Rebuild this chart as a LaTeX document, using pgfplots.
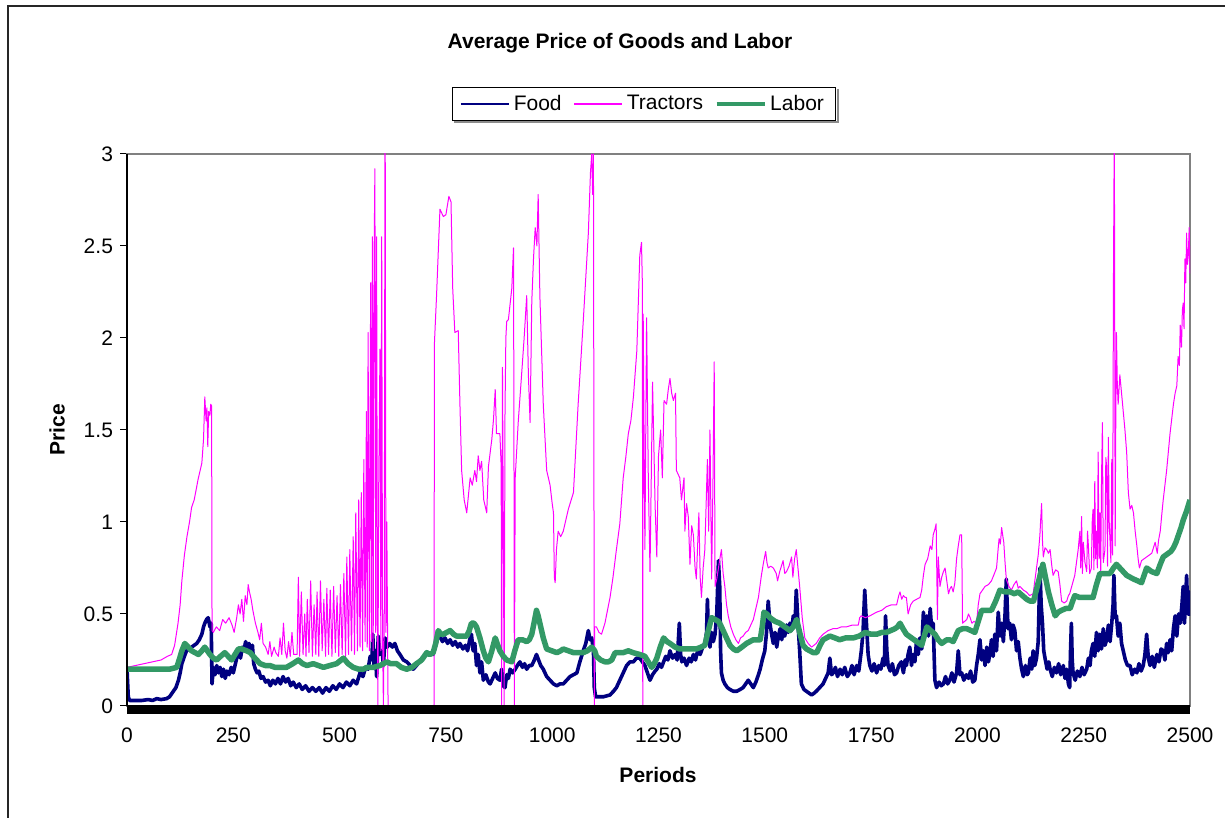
\documentclass[border=0pt]{standalone}
\usepackage{fontspec}
\setmainfont{Liberation Sans}
\usepackage{pgfplots}
\pgfplotsset{compat=1.18}
\definecolor{foodc}{RGB}{0,0,128}
\definecolor{tracc}{RGB}{255,0,255}
\definecolor{laborc}{RGB}{51,153,102}
\begin{document}
\begin{tikzpicture}
\useasboundingbox (0,0) rectangle (612.5pt,409pt);
\draw[black!85, line width=0.8pt] (4pt,-20pt) -- (4pt,406pt) -- (700pt,406pt);
\begin{axis}[
 name=ax,
 at={(63.5pt,56pt)}, anchor=south west,
 scale only axis, width=531.5pt, height=276pt,
 xmin=0, xmax=2500, ymin=0, ymax=3,
 xtick={0,250,...,2500}, ytick={0,0.5,...,3},
 tick label style={font=\fontsize{10.5}{12}\selectfont},
 /pgf/number format/assume math mode=true,
 /pgf/number format/1000 sep={},
 axis line style={draw=black!50, line width=0.6pt},
 xtick style={draw=none},
 ytick style={black, line width=0.5pt},
 tick align=outside, tick pos=left, major tick length=3.5pt,
 xticklabel style={yshift=-4pt},
 legend columns=3,
 legend style={at={(0.4864,1.0906)}, anchor=center, draw=black, line width=0.5pt, fill=white,
   name=leg,
   font=\fontsize{10.5}{12}\selectfont, inner ysep=1.5pt, inner xsep=4pt,
   /tikz/every even column/.append style={column sep=4pt}},
 legend image code/.code={\draw[#1, line join=round] (0pt,0pt) -- (24pt,0pt);},
]
\addplot[foodc, line width=1.8pt, line join=round, legend image post style={line width=0.8pt}] coordinates {
(0,0.20) (3,0.05) (6,0.03) (20,0.03) (35,0.03) (50,0.035) (60,0.03) (70,0.04) (80,0.035) (93,0.04) (100,0.05) (109,0.08) (115,0.10) (121,0.14) (125,0.18) (129,0.23) (135,0.27) (140,0.30) (146,0.31) (152,0.32) (158,0.33) (164,0.34) (170,0.36) (176,0.39) (180,0.43) (183,0.45) (187,0.47) (191,0.48) (195,0.43) (198,0.45) (200,0.12) (203,0.21) (207,0.17) (211,0.22) (215,0.18) (219,0.21) (223,0.16) (227,0.20) (231,0.15) (235,0.19) (240,0.17) (245,0.21) (250,0.18) (255,0.23) (259,0.27) (263,0.29) (267,0.26) (271,0.32) (275,0.30) (279,0.35) (283,0.31) (287,0.34) (291,0.30) (295,0.33) (298,0.23) (302,0.20) (306,0.18) (310,0.19) (315,0.15) (320,0.16) (326,0.13) (332,0.14) (337,0.11) (343,0.14) (349,0.12) (355,0.15) (361,0.12) (367,0.16) (373,0.13) (379,0.15) (385,0.11) (391,0.13) (398,0.10) (405,0.12) (412,0.09) (420,0.11) (428,0.08) (436,0.10) (444,0.08) (452,0.10) (460,0.07) (468,0.10) (476,0.08) (484,0.11) (492,0.09) (500,0.12) (508,0.10) (516,0.13) (524,0.11) (532,0.14) (540,0.12) (548,0.18) (555,0.16) (561,0.21) (567,0.20) (572,0.27) (576,0.25) (578,0.39) (581,0.22) (584,0.30) (587,0.16) (591,0.38) (595,0.28) (600,0.30) (603,0.22) (607,0.37) (612,0.32) (618,0.34) (624,0.32) (630,0.34) (636,0.30) (642,0.28) (650,0.25) (658,0.24) (666,0.22) (673,0.20) (681,0.22) (690,0.25) (698,0.27) (705,0.28) (712,0.29) (720,0.28) (726,0.33) (731,0.37) (736,0.38) (742,0.35) (748,0.37) (754,0.34) (760,0.36) (766,0.33) (772,0.35) (778,0.32) (783,0.34) (790,0.31) (796,0.33) (801,0.30) (806,0.36) (810,0.39) (814,0.30) (818,0.34) (822,0.22) (826,0.28) (830,0.18) (834,0.24) (838,0.14) (844,0.17) (850,0.13) (854,0.12) (860,0.15) (866,0.18) (871,0.15) (877,0.14) (881,0.20) (885,0.11) (889,0.10) (893,0.17) (897,0.15) (901,0.20) (907,0.18) (913,0.20) (918,0.22) (924,0.24) (930,0.21) (935,0.23) (940,0.20) (946,0.22) (952,0.22) (958,0.25) (963,0.28) (968,0.25) (973,0.22) (979,0.20) (987,0.16) (995,0.14) (1003,0.12) (1011,0.11) (1018,0.12) (1026,0.12) (1034,0.14) (1042,0.16) (1050,0.17) (1058,0.18) (1065,0.24) (1073,0.30) (1079,0.34) (1085,0.41) (1089,0.36) (1093,0.37) (1097,0.30) (1099,0.10) (1102,0.05) (1112,0.05) (1120,0.05) (1128,0.055) (1136,0.06) (1144,0.08) (1151,0.10) (1157,0.13) (1163,0.16) (1169,0.19) (1175,0.22) (1183,0.24) (1191,0.24) (1198,0.26) (1206,0.26) (1212,0.24) (1218,0.22) (1224,0.18) (1230,0.14) (1236,0.17) (1242,0.19) (1246,0.20) (1252,0.23) (1257,0.21) (1262,0.24) (1267,0.27) (1272,0.25) (1277,0.30) (1283,0.26) (1289,0.28) (1294,0.25) (1299,0.45) (1302,0.28) (1305,0.24) (1310,0.26) (1316,0.22) (1322,0.26) (1327,0.24) (1332,0.28) (1337,0.25) (1342,0.30) (1348,0.28) (1354,0.32) (1359,0.34) (1363,0.40) (1365,0.58) (1368,0.36) (1371,0.32) (1375,0.40) (1379,0.35) (1383,0.39) (1387,0.50) (1391,0.79) (1394,0.65) (1396,0.30) (1398,0.18) (1402,0.14) (1406,0.12) (1412,0.10) (1418,0.09) (1426,0.08) (1434,0.08) (1442,0.09) (1449,0.10) (1455,0.12) (1461,0.14) (1467,0.12) (1473,0.10) (1479,0.13) (1485,0.17) (1489,0.20) (1494,0.25) (1500,0.30) (1504,0.40) (1508,0.57) (1512,0.45) (1516,0.39) (1520,0.34) (1524,0.40) (1528,0.32) (1532,0.38) (1536,0.42) (1540,0.36) (1543,0.43) (1547,0.38) (1551,0.44) (1555,0.40) (1559,0.45) (1563,0.41) (1567,0.49) (1571,0.44) (1574,0.63) (1578,0.45) (1582,0.30) (1586,0.12) (1592,0.09) (1598,0.08) (1604,0.07) (1610,0.06) (1616,0.07) (1621,0.08) (1629,0.10) (1637,0.12) (1643,0.15) (1649,0.18) (1653,0.26) (1657,0.17) (1661,0.18) (1666,0.21) (1671,0.16) (1677,0.20) (1682,0.17) (1688,0.21) (1694,0.16) (1700,0.18) (1705,0.22) (1710,0.17) (1716,0.22) (1721,0.19) (1727,0.30) (1731,0.40) (1735,0.63) (1739,0.45) (1743,0.28) (1747,0.22) (1752,0.19) (1757,0.23) (1763,0.18) (1768,0.22) (1773,0.20) (1778,0.26) (1781,0.22) (1784,0.49) (1787,0.30) (1790,0.22) (1795,0.19) (1800,0.23) (1805,0.17) (1810,0.18) (1815,0.22) (1821,0.24) (1826,0.18) (1830,0.25) (1833,0.22) (1837,0.28) (1841,0.32) (1845,0.22) (1849,0.28) (1853,0.24) (1857,0.36) (1861,0.28) (1865,0.37) (1869,0.31) (1873,0.51) (1877,0.40) (1881,0.49) (1885,0.38) (1889,0.53) (1893,0.40) (1896,0.45) (1900,0.14) (1904,0.10) (1910,0.13) (1915,0.11) (1920,0.12) (1925,0.16) (1930,0.12) (1935,0.14) (1940,0.18) (1945,0.13) (1951,0.18) (1955,0.30) (1959,0.17) (1963,0.18) (1968,0.14) (1974,0.17) (1979,0.15) (1984,0.19) (1989,0.13) (1994,0.14) (1998,0.22) (2002,0.28) (2006,0.36) (2010,0.25) (2014,0.30) (2018,0.22) (2022,0.32) (2026,0.24) (2029,0.28) (2033,0.36) (2037,0.27) (2041,0.39) (2045,0.30) (2049,0.51) (2053,0.38) (2057,0.45) (2061,0.35) (2065,0.50) (2068,0.69) (2072,0.42) (2076,0.45) (2080,0.36) (2084,0.44) (2088,0.41) (2092,0.30) (2096,0.35) (2100,0.26) (2104,0.20) (2108,0.16) (2113,0.22) (2117,0.17) (2120,0.18) (2124,0.26) (2128,0.20) (2131,0.30) (2135,0.22) (2139,0.26) (2143,0.35) (2147,0.75) (2150,0.55) (2153,0.45) (2156,0.30) (2159,0.26) (2164,0.20) (2168,0.24) (2171,0.20) (2176,0.16) (2181,0.21) (2186,0.18) (2191,0.23) (2196,0.17) (2202,0.22) (2206,0.15) (2210,0.20) (2214,0.12) (2217,0.10) (2219,0.30) (2221,0.45) (2223,0.25) (2225,0.18) (2230,0.14) (2235,0.19) (2241,0.16) (2246,0.21) (2251,0.17) (2257,0.20) (2261,0.26) (2265,0.22) (2268,0.30) (2272,0.34) (2276,0.27) (2280,0.40) (2284,0.30) (2288,0.39) (2292,0.31) (2296,0.42) (2300,0.33) (2304,0.36) (2308,0.44) (2312,0.35) (2316,0.45) (2319,0.55) (2321,0.71) (2324,0.48) (2327,0.49) (2331,0.38) (2335,0.45) (2339,0.34) (2343,0.30) (2348,0.25) (2353,0.22) (2359,0.22) (2364,0.17) (2370,0.20) (2375,0.18) (2380,0.23) (2385,0.19) (2390,0.22) (2394,0.28) (2398,0.39) (2402,0.26) (2406,0.22) (2411,0.27) (2416,0.21) (2422,0.28) (2427,0.24) (2432,0.31) (2437,0.30) (2441,0.25) (2445,0.34) (2449,0.29) (2453,0.36) (2457,0.30) (2461,0.42) (2465,0.49) (2469,0.38) (2473,0.50) (2477,0.45) (2481,0.55) (2484,0.65) (2487,0.45) (2490,0.60) (2492,0.71) (2495,0.50) (2498,0.62) (2500,0.49)
};
\addlegendentry{Food}
\addplot[tracc, line width=0.5pt, line join=round, legend image post style={line width=0.6pt}] coordinates {
(0,0.21) (20,0.22) (40,0.23) (60,0.24) (80,0.25) (95,0.27) (105,0.28) (112,0.33) (120,0.45) (125,0.55) (129,0.68) (135,0.82) (141,0.92) (147,1.0) (152,1.08) (158,1.12) (163,1.18) (167,1.23) (172,1.28) (176,1.32) (180,1.45) (183,1.68) (186,1.55) (188,1.62) (190,1.41) (192,1.6) (195,1.58) (197,1.64) (199,1.63) (200,0.41)
(203,0.40) (210,0.43) (218,0.41) (225,0.47) (232,0.45) (240,0.48) (247,0.44) (252,0.40) (258,0.48) (262,0.55) (266,0.50) (270,0.58) (274,0.46) (278,0.60) (282,0.55) (285,0.66) (288,0.62) (292,0.58) (296,0.52) (302,0.45) (308,0.40) (312,0.36) (316,0.45) (320,0.34) (326,0.32) (332,0.28) (336,0.35) (340,0.27) (346,0.32) (350,0.29) (356,0.27) (360,0.37) (364,0.28) (368,0.45) (372,0.30) (376,0.26) (380,0.35) (384,0.27) (388,0.40) (392,0.28)
(400,0.28) (403,0.70) (406,0.27) (410,0.62) (414,0.28) (418,0.50) (421,0.27) (424,0.58) (428,0.29) (432,0.68) (436,0.27) (440,0.55) (444,0.28) (447,0.62) (451,0.27) (455,0.68) (459,0.30) (463,0.58) (467,0.27) (470,0.64) (474,0.28) (478,0.63) (482,0.27) (486,0.65) (490,0.29) (494,0.60) (498,0.27) (502,0.66) (506,0.28) (510,0.72) (514,0.27) (517,0.81) (521,0.28) (524,0.85) (528,0.30) (532,0.92) (535,0.28) (538,1.05) (542,0.30) (545,1.12) (548,0.32) (551,1.16) (554,0.30) (557,1.34) (560,0.35) (563,1.60) (565,0.32) (567,2.03) (570,0.30) (573,2.30) (575,0.35) (577,2.55) (579,0.30) (581,2.40) (583,2.92) (585,0.40) (587,2.55) (589,0.5) (590,0) (592,1.2) (595,1.94) (597,0.3) (599,2.55) (601,0.4) (603,0) (605,0.5) (607,3.5) (609,0.4) (611,1.0) (614,0) (720,0)
(722,0) (723,1.97) (728,2.23) (736,2.70) (744,2.66) (750,2.67) (757,2.77) (762,2.74) (766,2.27) (771,2.03) (779,2.04) (783,1.64) (787,1.28) (793,1.12) (799,1.05) (807,1.24) (812,1.20) (818,1.28) (822,1.22) (826,1.36) (830,1.28) (834,1.33) (839,1.12) (846,1.05) (850,1.30) (858,1.45) (862,1.56) (866,1.72) (869,1.48) (877,1.48) (880,1.3) (881,0) (883,1.84) (885,1.0) (887,0) (889,1.6) (891,2.0) (893,2.09) (897,2.10) (905,2.27) (909,2.49) (910,1.5) (911,0) (913,1.24) (920,1.54) (928,1.80) (934,2.0) (940,2.23) (944,1.8) (948,1.54) (952,2.2) (956,2.43) (960,2.60) (964,2.5) (967,2.78) (971,2.23) (979,1.64) (987,1.28) (995,1.20) (1000,1.10) (1003,1.05) (1005,0.7) (1007,0.67) (1010,0.85) (1014,0.95) (1020,0.92) (1026,0.95) (1038,1.07) (1050,1.16) (1061,1.64) (1073,2.09) (1085,2.57) (1090,2.9) (1093,3.0) (1095,2.78) (1097,3.0) (1099,0)
(1100,0.43) (1104,0.43) (1110,0.40) (1116,0.39) (1120,0.42) (1124,0.45) (1130,0.52) (1136,0.59) (1143,0.70) (1151,0.85) (1159,0.99) (1167,1.24) (1173,1.35) (1179,1.48) (1185,1.55)
(1191,1.68) (1199,1.93) (1206,2.45) (1210,2.52) (1212,2.3) (1213,0) (1214,2.13) (1218,0.85) (1222,2.11) (1226,1.24) (1230,0.73) (1236,1.76) (1242,1.09) (1246,0.81) (1250,1.36) (1255,1.50) (1259,1.24) (1263,1.66) (1269,1.64) (1273,1.72) (1277,1.78) (1281,1.70) (1285,1.66) (1290,1.70) (1292,1.28) (1300,1.24) (1304,1.12) (1310,1.24) (1312,0.95) (1316,1.10) (1320,1.03) (1324,0.77) (1328,0.98) (1332,0.93) (1336,0.75) (1339,0.69) (1345,1.05) (1348,0.70) (1351,0.59) (1355,0.75) (1359,0.85) (1365,1.34) (1368,0.95) (1371,1.50) (1375,0.69) (1378,1.2) (1381,1.87) (1383,0.65) (1387,0.69) (1391,0.75) (1395,0.81) (1398,0.85) (1402,0.72) (1406,0.65) (1410,0.55) (1414,0.49) (1420,0.43) (1426,0.39) (1432,0.36) (1438,0.34) (1443,0.37) (1449,0.38) (1455,0.40) (1461,0.41) (1467,0.44) (1473,0.47) (1479,0.53) (1485,0.59) (1492,0.71) (1497,0.78) (1502,0.84) (1505,0.78) (1508,0.75) (1514,0.76) (1520,0.75) (1527,0.72) (1530,0.68) (1535,0.73) (1539,0.76) (1543,0.79) (1547,0.72) (1551,0.73) (1557,0.76) (1563,0.81) (1566,0.70) (1570,0.80) (1574,0.85) (1578,0.75) (1582,0.65) (1588,0.48) (1594,0.37) (1602,0.34) (1610,0.32) (1621,0.34) (1629,0.37) (1637,0.39) (1649,0.41) (1660,0.42) (1669,0.42) (1680,0.43) (1692,0.43) (1706,0.44) (1720,0.44) (1723,0.48) (1727,0.49) (1737,0.48) (1747,0.49) (1755,0.50) (1763,0.51) (1775,0.52) (1786,0.54) (1798,0.55) (1810,0.55) (1815,0.60) (1818,0.62) (1822,0.58) (1826,0.60) (1830,0.59) (1833,0.59) (1837,0.50) (1843,0.55) (1849,0.57) (1857,0.58) (1865,0.59) (1869,0.63) (1873,0.71) (1877,0.77) (1883,0.80) (1889,0.87) (1893,0.85) (1896,0.93) (1900,0.96) (1903,0.99) (1906,0.47) (1908,0.81) (1912,0.65) (1916,0.70) (1920,0.73) (1924,0.75) (1928,0.68) (1932,0.61) (1936,0.64) (1939,0.65) (1943,0.62) (1947,0.67) (1951,0.80) (1955,0.87) (1959,0.93) (1963,0.93) (1965,0.45) (1970,0.46) (1975,0.47) (1979,0.50) (1983,0.48) (1987,0.45) (1992,0.46) (1998,0.45) (2002,0.55) (2006,0.61) (2012,0.63) (2018,0.65) (2026,0.66) (2033,0.68) (2040,0.72) (2045,0.75) (2049,0.86) (2051,0.91) (2054,0.88) (2057,0.97) (2060,0.92) (2062,0.89) (2065,0.78) (2068,0.69) (2074,0.65) (2080,0.63) (2086,0.66) (2092,0.68) (2096,0.64) (2100,0.65) (2108,0.63) (2115,0.62) (2123,0.60) (2131,0.61) (2135,0.68) (2139,0.75) (2143,0.82) (2147,0.93) (2149,1.02) (2151,1.10) (2153,0.90) (2155,0.81) (2159,0.86) (2163,0.85) (2167,0.83) (2171,0.85) (2175,0.76) (2178,0.71) (2184,0.74) (2190,0.73) (2194,0.66) (2198,0.57) (2204,0.56) (2210,0.57) (2214,0.60) (2217,0.61) (2223,0.66) (2229,0.71) (2233,0.78) (2237,0.85) (2241,0.95) (2243,0.75) (2245,1.03) (2247,0.72) (2249,0.89) (2253,0.78) (2257,0.73) (2259,0.95) (2261,0.87) (2264,0.72) (2268,0.75) (2270,1.0) (2272,1.07) (2274,0.74) (2276,1.22) (2278,0.80) (2280,0.95) (2282,0.75) (2284,1.38) (2286,0.80) (2288,1.05) (2290,0.72) (2292,1.25) (2294,1.54) (2296,0.78) (2300,0.85) (2302,1.35) (2304,1.30) (2306,0.76) (2308,1.46) (2310,1.0) (2312,0.89) (2314,0.78) (2316,1.34) (2318,0.82) (2320,2.33) (2322,3.2) (2324,0.87) (2325,1.4) (2327,2.03) (2329,1.75) (2331,1.64) (2333,1.72) (2335,1.80) (2339,1.70) (2343,1.60) (2347,1.50) (2351,1.38) (2355,1.16) (2359,1.07) (2363,1.09) (2367,1.05) (2371,0.95) (2375,0.87) (2378,0.80) (2381,0.75) (2386,0.79) (2392,0.80) (2398,0.81) (2404,0.82) (2410,0.83) (2414,0.86) (2418,0.89) (2423,0.83) (2426,0.90) (2430,0.95) (2434,1.05) (2437,1.12) (2441,1.20) (2445,1.28) (2449,1.38) (2453,1.48) (2457,1.56) (2461,1.64) (2465,1.70) (2469,1.74) (2472,1.90) (2475,1.85) (2477,2.07) (2480,1.95) (2482,2.15) (2484,2.19) (2486,2.05) (2488,2.43) (2490,2.30) (2492,2.57) (2494,2.40) (2496,2.45) (2498,2.60) (2500,2.35)
};
\addlegendentry{Tractors}
\addplot[laborc, line width=2.75pt, line join=round, legend image post style={line width=1.6pt}] coordinates {
(0,0.20) (50,0.20) (100,0.20) (117,0.21) (124,0.26) (129,0.30) (136,0.34) (144,0.32) (152,0.30) (160,0.29) (168,0.28) (176,0.30) (183,0.32) (189,0.30) (195,0.28) (203,0.26) (211,0.25) (220,0.27) (230,0.29) (238,0.27) (246,0.25) (254,0.28) (262,0.31) (270,0.31) (281,0.30) (290,0.29) (297,0.27) (305,0.25) (313,0.23) (325,0.22) (336,0.22) (348,0.21) (360,0.21) (375,0.21) (390,0.23) (403,0.25) (413,0.23) (423,0.22) (438,0.23) (450,0.22) (462,0.21) (477,0.22) (493,0.23) (509,0.26) (520,0.23) (532,0.21) (545,0.20) (556,0.20) (564,0.21) (580,0.21) (595,0.22) (603,0.23) (611,0.24) (620,0.23) (634,0.23) (645,0.21) (658,0.20) (670,0.21) (681,0.23) (693,0.25) (705,0.29) (712,0.28) (720,0.29) (726,0.34) (732,0.41) (738,0.39) (744,0.39) (752,0.40) (760,0.41) (768,0.39) (775,0.38) (787,0.38) (799,0.38) (805,0.41) (810,0.45) (816,0.45) (822,0.43) (830,0.37) (838,0.30) (844,0.26) (850,0.24) (858,0.30) (866,0.37) (872,0.33) (877,0.30) (885,0.27) (893,0.25) (905,0.24) (912,0.30) (920,0.36) (930,0.36) (940,0.35) (946,0.36) (952,0.39) (958,0.46) (963,0.52) (967,0.49) (971,0.45) (979,0.37) (987,0.31) (999,0.30) (1011,0.29) (1020,0.30) (1026,0.31) (1038,0.30) (1050,0.29) (1062,0.29) (1073,0.29) (1083,0.30) (1093,0.32) (1100,0.30) (1104,0.27) (1114,0.25) (1124,0.24) (1132,0.24) (1140,0.25) (1148,0.29) (1158,0.29) (1167,0.29) (1179,0.30) (1190,0.29) (1206,0.28) (1218,0.27) (1226,0.24) (1234,0.21) (1240,0.23) (1246,0.26) (1254,0.32) (1262,0.37) (1270,0.35) (1277,0.34) (1289,0.32) (1300,0.31) (1316,0.31) (1330,0.31) (1339,0.31) (1350,0.32) (1359,0.33) (1366,0.40) (1375,0.48) (1383,0.47) (1391,0.46) (1396,0.44) (1402,0.41) (1410,0.37) (1418,0.33) (1426,0.31) (1434,0.30) (1446,0.32) (1457,0.34) (1465,0.35) (1473,0.36) (1481,0.36) (1489,0.36) (1494,0.43) (1498,0.51) (1505,0.50) (1512,0.48) (1524,0.46) (1535,0.45) (1547,0.43) (1559,0.41) (1567,0.43) (1575,0.47) (1582,0.40) (1590,0.33) (1598,0.31) (1606,0.30) (1614,0.29) (1622,0.29) (1630,0.33) (1637,0.36) (1645,0.37) (1653,0.38) (1665,0.37) (1676,0.36) (1690,0.37) (1708,0.37) (1722,0.38) (1736,0.40) (1750,0.39) (1763,0.39) (1775,0.40) (1786,0.40) (1796,0.41) (1806,0.42) (1812,0.43) (1818,0.45) (1825,0.42) (1833,0.39) (1845,0.37) (1857,0.35) (1863,0.34) (1869,0.33) (1875,0.38) (1881,0.43) (1890,0.41) (1900,0.39) (1908,0.36) (1916,0.34) (1922,0.35) (1928,0.36) (1935,0.36) (1943,0.35) (1949,0.38) (1955,0.41) (1965,0.42) (1975,0.42) (1985,0.41) (1994,0.40) (2002,0.46) (2010,0.52) (2022,0.52) (2033,0.52) (2043,0.57) (2053,0.63) (2065,0.62) (2077,0.62) (2087,0.61) (2096,0.62) (2106,0.60) (2116,0.58) (2124,0.57) (2132,0.57) (2143,0.67) (2154,0.77) (2160,0.70) (2167,0.62) (2175,0.55) (2183,0.49) (2190,0.51) (2198,0.52) (2208,0.53) (2218,0.53) (2224,0.57) (2229,0.60) (2240,0.59) (2249,0.59) (2260,0.59) (2272,0.59) (2280,0.66) (2288,0.72) (2300,0.72) (2312,0.72) (2320,0.75) (2327,0.77) (2339,0.74) (2351,0.71) (2359,0.70) (2367,0.69) (2377,0.68) (2386,0.67) (2392,0.71) (2398,0.75) (2410,0.73) (2422,0.72) (2430,0.77) (2437,0.81) (2443,0.82) (2449,0.83) (2455,0.84) (2461,0.86) (2467,0.89) (2473,0.93) (2479,0.97) (2484,1.01) (2492,1.06) (2500,1.12)
};
\addlegendentry{Labor}
\end{axis}
\fill[black] ([yshift=0.3pt]ax.south west) rectangle ([yshift=-4pt]ax.south east);
\draw[black, line width=0.6pt] (ax.south west) -- (ax.north west);
\fill[black!45] ([xshift=1pt,yshift=-0.25pt]leg.south west) rectangle ([xshift=1.25pt,yshift=-1.25pt]leg.south east);
\fill[black!45] ([xshift=0.25pt,yshift=-1.25pt]leg.south east) rectangle ([xshift=1.25pt,yshift=-1pt]leg.north east);
\node[font=\bfseries\fontsize{10.5}{12}\selectfont] at (310pt,387.5pt) {Average Price of Goods and Labor};
\node[font=\bfseries\fontsize{10.5}{12}\selectfont] at (329pt,21.5pt) {Periods};
\node[font=\bfseries\fontsize{10.5}{12}\selectfont, rotate=90] at (28.5pt,194pt) {Price};
\end{tikzpicture}
\end{document}
